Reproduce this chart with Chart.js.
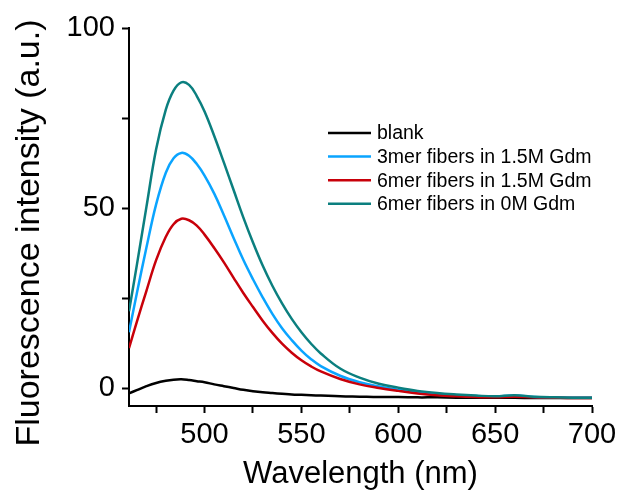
<!DOCTYPE html>
<html>
<head>
<meta charset="utf-8">
<script src="https://cdn.jsdelivr.net/npm/chart.js@4"></script>
<style>
  body { margin: 0; background: #fff; }
  #wrap { width: 631px; height: 494px; }
</style>
</head>
<body>
<div id="wrap"><canvas id="Spectra_Chart" width="631" height="494"></canvas></div>
<script>
// wavelengths (nm) shared by all spectra
const wavelengths = [461, 465, 470, 475, 480, 484, 488, 492, 496, 500, 505, 510, 515, 520, 525, 530, 535, 540, 545, 550,
    555, 560, 570, 580, 590, 600, 610, 620, 630, 640, 650, 660, 670, 680, 690, 700];

const blank = [-1.5, -0.6, 0.5, 1.4, 2.0, 2.3, 2.4, 2.2, 1.9, 1.6, 1.0, 0.5, 0.0, -0.5, -0.9, -1.2, -1.4, -1.6, -1.8, -1.9,
    -2.0, -2.1, -2.3, -2.4, -2.5, -2.5, -2.6, -2.6, -2.7, -2.7, -2.7, -2.7, -2.8, -2.8, -2.8, -2.8];
const mer3_15M = [15.5, 26.2, 39, 51, 59.8, 63.8, 65.3, 64.5, 62.2, 59, 54, 48, 41.7, 35.6, 30.2, 25.2, 20.6, 16.6, 13.3, 10.4,
    8.0, 6.1, 3.4, 1.6, 0.4, -0.5, -1.2, -1.7, -2.0, -2.2, -2.4, -2.1, -2.5, -2.6, -2.7, -2.7];
const mer6_15M = [11.1, 18.3, 27, 35.5, 42, 45.5, 47.0, 46.6, 45.1, 42.6, 38.9, 34.9, 30.6, 26.4, 22.5, 18.7, 15.3, 12.3, 9.8, 7.7,
    6.0, 4.6, 2.5, 1.0, 0.0, -0.8, -1.5, -2.0, -2.3, -2.5, -2.6, -2.4, -2.6, -2.7, -2.8, -2.8];
const mer6_0M = [21.3, 34, 50.3, 66.3, 77.3, 82.6, 84.9, 84.2, 81.1, 76.8, 70.0, 62.6, 55, 47.4, 40.4, 34, 28.4, 23.5, 19.2, 15.5,
    12.3, 9.6, 5.4, 2.9, 1.2, 0.1, -0.8, -1.4, -1.8, -2.1, -2.3, -2.0, -2.4, -2.6, -2.7, -2.7];

const seriesLabels = ['blank', '3mer fibers in 1.5M Gdm', '6mer fibers in 1.5M Gdm', '6mer fibers in 0M Gdm'];
const xTickLabels = [500, 550, 600, 650, 700];
const yTickLabels = [0, 50, 100];
const yTitle = 'Fluorescence intensity (a.u.)';

const FONT = "'Liberation Sans', Arial, sans-serif";

function pts(ys) {
    return wavelengths.map((x, i) => ({ x: x, y: ys[i] }));
}

// legend inside the plot + y title (sits a bit lower than the chart area centre)
const extras = {
    id: 'extras',
    afterDatasetsDraw(chart) {
        const ctx = chart.ctx;
        ctx.save();
        ctx.font = '19.5px ' + FONT;
        ctx.textBaseline = 'middle';
        ctx.textAlign = 'left';
        chart.data.datasets.forEach((ds, i) => {
            const y = 133 + i * 23.6;
            ctx.strokeStyle = ds.borderColor;
            ctx.lineWidth = 2.5;
            ctx.beginPath();
            ctx.moveTo(328, y);
            ctx.lineTo(371, y);
            ctx.stroke();
            ctx.fillStyle = '#000';
            ctx.fillText(ds.label, 377, y + 1);
        });
        ctx.translate(30, 233);
        ctx.rotate(-Math.PI / 2);
        ctx.textAlign = 'center';
        ctx.font = '34px ' + FONT;
        ctx.fillText(yTitle, 0, 0);
        ctx.restore();
    }
};

const ctxSpectra = document.getElementById('Spectra_Chart').getContext('2d');
new Chart(ctxSpectra, {
    type: 'line',
    data: {
        datasets: [
            { label: seriesLabels[0], data: pts(blank), borderColor: '#000000', order: 4 },
            { label: seriesLabels[1], data: pts(mer3_15M), borderColor: '#0aa4ff', order: 3 },
            { label: seriesLabels[2], data: pts(mer6_15M), borderColor: '#c8000a', order: 2 },
            { label: seriesLabels[3], data: pts(mer6_0M), borderColor: '#0b7f7f', order: 1 }
        ]
    },
    options: {
        responsive: false,
        animation: false,
        layout: { padding: { top: 28, right: 39, left: 0, bottom: 0 } },
        elements: {
            point: { radius: 0 },
            line: { borderWidth: 2.5, fill: false, tension: 0.4 }
        },
        plugins: {
            legend: { display: false },
            tooltip: { enabled: false }
        },
        scales: {
            x: {
                type: 'linear',
                min: 461,
                max: 700,
                afterFit(scale) { scale.height = 88; },
                border: { display: true, color: '#000', width: 2 },
                grid: { drawOnChartArea: false, drawTicks: true, tickLength: 7, tickColor: '#000', tickWidth: 2 },
                ticks: {
                    stepSize: 25,
                    includeBounds: false,
                    autoSkip: false,
                    maxRotation: 0,
                    padding: 5,
                    color: '#000',
                    font: { family: FONT, size: 29 },
                    callback: v => xTickLabels.includes(v) ? String(v) : ''
                },
                title: {
                    display: true,
                    text: 'Wavelength (nm)',
                    color: '#000',
                    font: { family: FONT, size: 31 },
                    padding: { top: 0, bottom: 1 }
                }
            },
            y: {
                min: -5,
                max: 100,
                afterFit(scale) { scale.width = 129; },
                border: { display: true, color: '#000', width: 2 },
                grid: { drawOnChartArea: false, drawTicks: true, tickLength: 7, tickColor: '#000', tickWidth: 2 },
                ticks: {
                    stepSize: 25,
                    includeBounds: false,
                    autoSkip: false,
                    padding: 7,
                    color: '#000',
                    font: { family: FONT, size: 29 },
                    callback: v => yTickLabels.includes(v) ? String(v) : ''
                }
            }
        }
    },
    plugins: [extras]
});
</script>
</body>
</html>
